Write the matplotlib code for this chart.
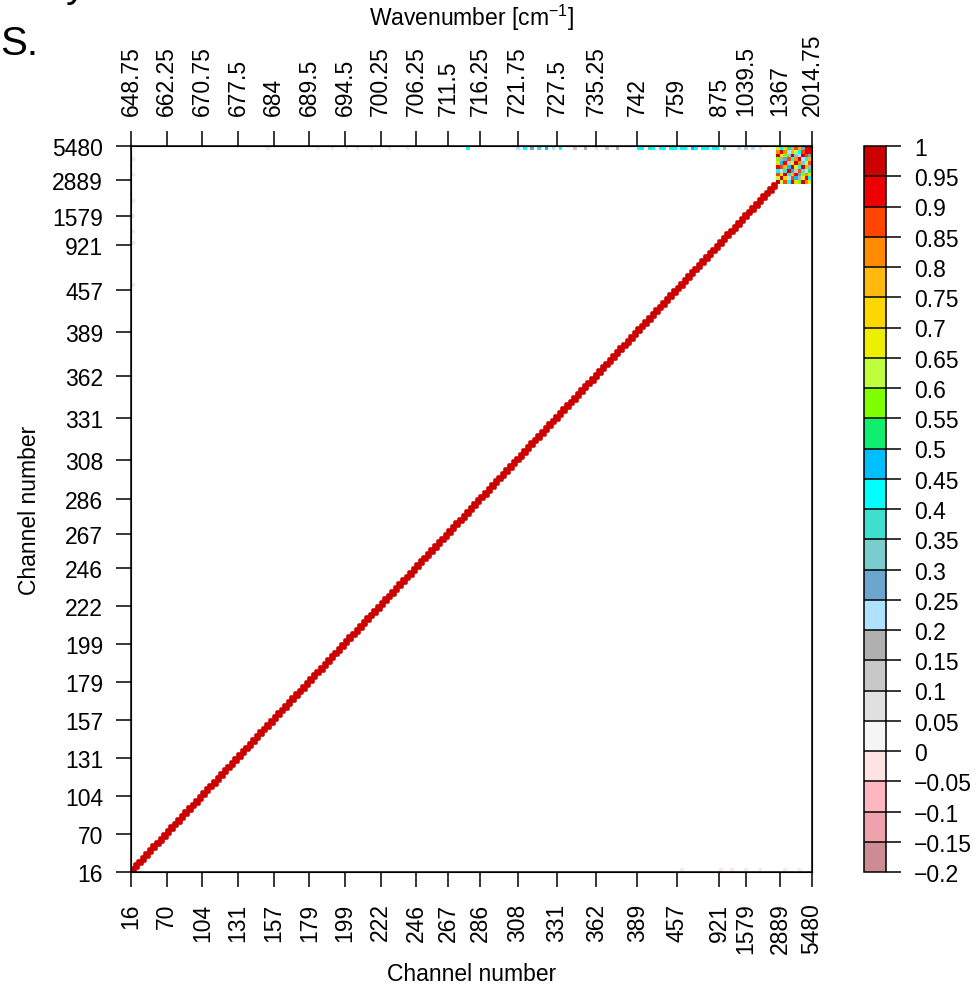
import matplotlib.pyplot as plt
import matplotlib.colors as mcolors
import numpy as np

plt.rcParams['font.family'] = ['Liberation Sans', 'DejaVu Sans']
plt.rcParams['mathtext.fontset'] = 'custom'
plt.rcParams['mathtext.rm'] = 'Liberation Sans'
plt.rcParams['mathtext.it'] = 'Liberation Sans:italic'

# selected channels (index space), labelled ones only
n_channels = 191
channel_labels = ['16', '70', '104', '131', '157', '179', '199', '222', '246', '267',
                  '286', '308', '331', '362', '389', '457', '921', '1579', '2889', '5480']
wavenumber_labels = ['648.75', '662.25', '670.75', '677.5', '684', '689.5', '694.5',
                     '700.25', '706.25', '711.5', '716.25', '721.75', '727.5', '735.25',
                     '742', '759', '875', '1039.5', '1367', '2014.75']
label_index = [0, 10, 20, 30, 40, 50, 60, 70, 80, 89, 98, 108.5, 119.5, 130.5,
               142, 153, 165, 172.5, 182, 191]

# correlation block of the last ten channels (upper triangle, row by row)
block_start = 181
block_upper = [
    [0.62, 0.88, 0.41, 0.93, 0.72, 0.56, 0.97, 0.81, 0.68],
    [0.74, 0.22, 0.85, 0.47, 0.18, 0.66, 0.92, 0.43],
    [0.38, 0.79, 0.91, 0.27, 0.58, 0.83, 0.71],
    [0.46, 0.12, 0.87, 0.33, 0.24, 0.52],
    [0.69, 0.42, 0.96, 0.77, 0.16],
    [0.84, 0.31, 0.63, 0.89],
    [0.21, 0.44, 0.78],
    [0.86, 0.26],
    [0.91],
]

# correlations of channel 5480 with the long-wave channels
last_row_idx = [38, 52, 56, 60, 63, 67, 72, 77, 94, 108, 110, 112, 114, 116, 118, 120,
                124, 127, 130, 133, 136, 142, 143, 145, 146, 148, 149, 151, 152,
                154, 155, 157, 158, 160, 161, 163, 164, 166, 170, 172, 174, 176]
last_row_val = [-0.03, -0.04, -0.03, -0.02, -0.04, -0.03, -0.02, -0.03, 0.42, 0.22,
                0.41, 0.27, 0.38, 0.47, 0.24, 0.41, 0.12, 0.17, 0.08, 0.11, 0.16,
                0.43, 0.41, 0.38, 0.42, 0.41, 0.43, 0.42, 0.44, 0.43, 0.40,
                0.45, 0.41, 0.43, 0.42, 0.40, 0.41, 0.36, 0.22, 0.12, 0.23, 0.08]

# correlations of channel 16 with the short-wave channels
first_row_idx = [154, 165, 168, 172, 176, 183, 187]
first_row_val = [-0.03, -0.02, -0.03, -0.04, -0.02, -0.03, -0.02]

levels = [-0.2, -0.15, -0.1, -0.05, 0, 0.05, 0.1, 0.15, 0.2, 0.25, 0.3, 0.35, 0.4,
          0.45, 0.5, 0.55, 0.6, 0.65, 0.7, 0.75, 0.8, 0.85, 0.9, 0.95, 1]
level_labels = ['\u22120.2', '\u22120.15', '\u22120.1', '\u22120.05', '0', '0.05', '0.1',
                '0.15', '0.2', '0.25', '0.3', '0.35', '0.4', '0.45', '0.5', '0.55', '0.6',
                '0.65', '0.7', '0.75', '0.8', '0.85', '0.9', '0.95', '1']
level_colors = ['#CD8C95', '#EEA2AD', '#FFB6C1', '#FFE4E1', '#F5F5F5', '#E0E0E0',
                '#C8C8C8', '#B0B0B0', '#B0E2FF', '#6CA6CD', '#79CDCD', '#40E0D0',
                '#00FFFF', '#00BFFF', '#10EE70', '#7FFF00', '#C0FF3E', '#EEEE00',
                '#FFD700', '#FFB90F', '#FF8C00', '#FF4500', '#EE0000', '#CD0000']

# assemble the matrix; unset pairs stay blank
corr = np.full((n_channels, n_channels), np.nan)
idx = np.arange(n_channels)
corr[idx, idx] = 1.0
for i, row in enumerate(block_upper):
    for k, v in enumerate(row):
        a, b = block_start + i, block_start + i + 1 + k
        corr[a, b] = v
        corr[b, a] = v
corr[n_channels - 1, last_row_idx] = last_row_val
corr[0, first_row_idx] = first_row_val
corr[first_row_idx, 0] = first_row_val

cmap = mcolors.ListedColormap(level_colors)
norm = mcolors.BoundaryNorm(levels, cmap.N)

fig = plt.figure(figsize=(9.8, 9.87), dpi=100)
W, H = 980, 987
ax = fig.add_axes([131 / W, 1 - 873 / H, 681 / W, 726 / H])
edges = np.arange(n_channels + 1)
ax.pcolormesh(edges, edges, np.ma.masked_invalid(corr), cmap=cmap, norm=norm,
              shading='flat', edgecolors='none', antialiased=False)

# long-wave diagonal drawn again with a face-coloured edge so it reads as a line
diag = np.full_like(corr, np.nan)
diag[idx[:block_start], idx[:block_start]] = corr[idx[:block_start], idx[:block_start]]
ax.pcolormesh(edges, edges, np.ma.masked_invalid(diag), cmap=cmap, norm=norm,
              shading='flat', edgecolors='face', linewidth=2.6, antialiased=True)
ax.set_xlim(0, n_channels)
ax.set_ylim(0, n_channels)

fs = 16.5
tick_kw = dict(length=11, width=1.1, color='black', labelsize=fs)
ax.set_xticks(label_index)
ax.set_xticklabels(channel_labels, rotation=90)
ax.set_yticks(label_index)
ax.set_yticklabels(channel_labels)
ax.tick_params(axis='x', pad=11, **tick_kw)
ax.tick_params(axis='y', pad=9, **tick_kw)
for s in ax.spines.values():
    s.set_linewidth(1.1)

top = ax.twiny()
top.set_xlim(ax.get_xlim())
top.set_xticks(label_index)
top.set_xticklabels(wavenumber_labels, rotation=90)
top.tick_params(axis='x', pad=11, **tick_kw)

fig.text(472 / W, 1 - 975 / H, 'Channel number', ha='center', va='center', fontsize=fs)
fig.text(30 / W, 1 - 510 / H, 'Channel number', ha='center', va='center',
         rotation=90, fontsize=fs)
fig.text(472 / W, 1 - 18 / H, 'Wavenumber [cm$^{-1}$]', ha='center', va='center',
         fontsize=fs)
fig.text(0 / W, 1 - 55 / H, 'S.', ha='left', va='baseline', fontsize=29)
fig.text(66 / W, 1 + 3 / H, 'y', ha='left', va='baseline', fontsize=29)

cax = fig.add_axes([864 / W, 1 - 873 / H, 22 / W, 726 / H])
cb = fig.colorbar(plt.cm.ScalarMappable(norm=norm, cmap=cmap), cax=cax,
                  boundaries=levels, ticks=levels, drawedges=True)
cb.outline.set_linewidth(1.1)
cb.dividers.set_linewidth(1.1)
cb.ax.set_yticklabels(level_labels)
cb.ax.tick_params(length=11, width=1.1, labelsize=fs, pad=9)

fig.savefig('out.png', dpi=100)
